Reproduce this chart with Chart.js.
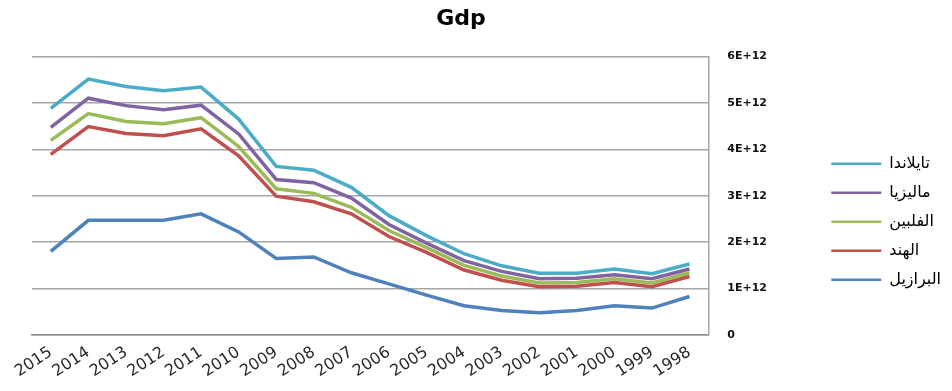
<!DOCTYPE html>
<html>
<head>
<meta charset="utf-8">
<title>Gdp</title>
<script src="https://cdn.jsdelivr.net/npm/chart.js@4.4.1/dist/chart.umd.min.js"></script>
<style>
  html, body { margin: 0; padding: 0; background: #ffffff; }
  #wrap { width: 952px; height: 391px; position: relative; }
</style>
</head>
<body>
<div id="wrap"><canvas id="gdpChart"></canvas></div>
<script>
// years run from newest to oldest, like the source sheet
const years = ['2015', '2014', '2013', '2012', '2011', '2010', '2009', '2008', '2007',
    '2006', '2005', '2004', '2003', '2002', '2001', '2000', '1999', '1998'];

// GDP per country, in units of 1E+12 (lines are stacked)
const brazil      = [1.80, 2.47, 2.47, 2.47, 2.61, 2.22, 1.65, 1.68, 1.34, 1.10, 0.86, 0.63, 0.53, 0.48, 0.53, 0.63, 0.58, 0.83];
const india       = [2.09, 2.02, 1.87, 1.82, 1.83, 1.64, 1.34, 1.19, 1.27, 1.02, 0.92, 0.77, 0.65, 0.56, 0.52, 0.50, 0.46, 0.43];
const philippines = [0.30, 0.28, 0.26, 0.26, 0.24, 0.20, 0.16, 0.18, 0.14, 0.13, 0.10, 0.10, 0.09, 0.08, 0.08, 0.08, 0.08, 0.08];
const malaysia    = [0.28, 0.33, 0.34, 0.30, 0.27, 0.27, 0.20, 0.23, 0.20, 0.13, 0.10, 0.10, 0.10, 0.09, 0.09, 0.09, 0.09, 0.08];
const thailand    = [0.41, 0.41, 0.41, 0.41, 0.39, 0.32, 0.28, 0.27, 0.23, 0.19, 0.16, 0.15, 0.12, 0.12, 0.11, 0.12, 0.11, 0.11];

const seriesNames = ['البرازيل', 'الهند', 'الفلبين', 'ماليزيا', 'تايلاندا'];
const yTicks = [0, 1, 2, 3, 4, 5, 6];

const colors = ['#4f81bd', '#c0504d', '#9bbb59', '#8064a2', '#4bacc6'];
const values = [brazil, india, philippines, malaysia, thailand];

const datasets = values.map((data, i) => ({
    label: seriesNames[i],
    data: data,
    borderColor: colors[i],
    backgroundColor: colors[i],
    borderWidth: 3.5,
    pointRadius: 0,
    tension: 0,
    fill: false
}));

// centre the title over the plot rather than over the whole canvas
const titleOverPlot = {
    id: 'titleOverPlot',
    afterLayout(chart) {
        if (chart.titleBlock) {
            chart.titleBlock.left = 0;
            chart.titleBlock.right = 922;
        }
    }
};

const ctx = document.getElementById('gdpChart').getContext('2d');
new Chart(ctx, {
    type: 'line',
    data: { labels: years, datasets: datasets },
    plugins: [titleOverPlot],
    options: {
        responsive: true,
        maintainAspectRatio: false,
        animation: false,
        layout: { padding: { left: 32, right: 1, top: 0, bottom: 0 } },
        plugins: {
            title: {
                display: true,
                text: 'Gdp',
                color: '#000000',
                font: { family: "'DejaVu Sans', sans-serif", size: 22, weight: 'bold' },
                padding: { top: 6, bottom: 24 }
            },
            legend: {
                position: 'right',
                reverse: true,
                // empty title only pushes the entries a bit lower
                title: { display: true, text: '', padding: { top: 38, bottom: 0 } },
                labels: {
                    usePointStyle: true,
                    pointStyle: 'line',
                    pointStyleWidth: 50,
                    color: '#000000',
                    padding: 13,
                    font: { family: "'DejaVu Sans', sans-serif", size: 16 },
                    generateLabels: chart => Chart.defaults.plugins.legend.labels.generateLabels(chart)
                        .map(item => Object.assign(item, { lineWidth: 2.5 }))
                }
            },
            tooltip: { enabled: false }
        },
        scales: {
            x: {
                offset: true,
                afterFit: scale => { scale.height = 56; },
                grid: { display: false },
                border: { display: true, color: '#8c8c8c', width: 1.5 },
                ticks: {
                    color: '#2a2a2a',
                    minRotation: 33,
                    maxRotation: 33,
                    autoSkip: false,
                    padding: 0,
                    font: { family: "'DejaVu Sans', sans-serif", size: 16 }
                }
            },
            y: {
                position: 'right',
                stacked: true,
                min: 0,
                max: 6,
                afterBuildTicks: scale => {
                    scale.ticks = yTicks.map(v => ({ value: v }));
                },
                afterFit: scale => { scale.width = 110; },
                grid: { color: '#a6a6a6', lineWidth: 1.5, drawTicks: false },
                border: { display: true, color: '#a6a6a6', width: 1.5 },
                ticks: {
                    color: '#111111',
                    padding: 19,
                    font: { family: "'DejaVu Sans', sans-serif", size: 11, weight: 'bold' },
                    callback: v => (v === 0 ? '0' : v + 'E+12')
                }
            }
        }
    }
});
</script>
</body>
</html>
